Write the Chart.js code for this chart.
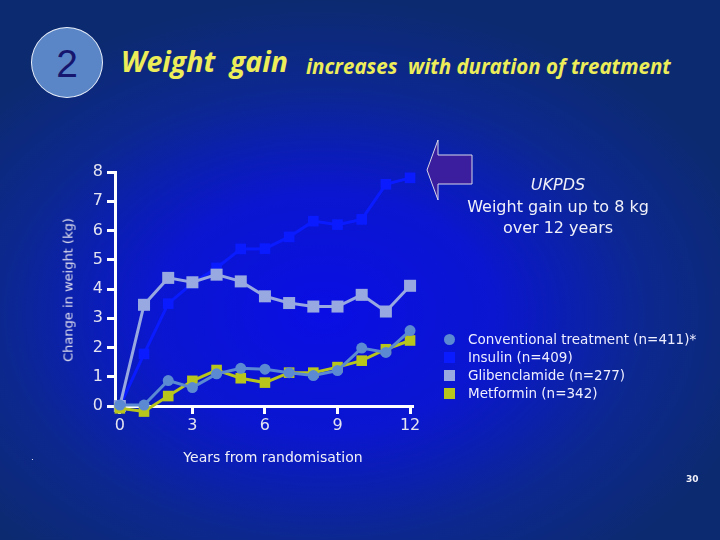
<!DOCTYPE html>
<html>
<head>
<meta charset="utf-8">
<script src="https://cdn.jsdelivr.net/npm/chart.js@4.4.1/dist/chart.umd.min.js"></script>
<style>
  html, body { margin: 0; padding: 0; }
  body {
    width: 720px; height: 540px; position: relative; overflow: hidden;
    font-family: "DejaVu Sans", Verdana, sans-serif;
    background: radial-gradient(ellipse 62% 58% at 45% 58%, #0a0ee4 0%, #0a16d0 38%, #0c2890 72%, #0c2a70 100%);
  }
  #chart { position: absolute; left: 0; top: 0; }
  .txt { position: absolute; white-space: nowrap; color: #f0f0f8; }
  #badge {
    position: absolute; left: 31px; top: 27px; width: 72px; height: 71px; border-radius: 50%;
    background: #5a86c8; border: 1px solid #e8eef8; box-sizing: border-box;
    color: #16166e; font: 39px "Liberation Sans", Arial, sans-serif; text-align: center; line-height: 72px;
  }
  .title { position: absolute; color: #eded5a; font-family: "Open Sans", sans-serif; font-style: italic; font-weight: bold; white-space: nowrap; }
  #legend { position: absolute; left: 444px; top: 330px; }
  .li { height: 18px; font-size: 13.5px; color: #eef; display: flex; align-items: center; }
  .mk { width: 11px; height: 11px; margin-right: 13px; }
</style>
</head>
<body>
<div id="badge">2</div>
<div class="title" style="left:121px; top:42px; font-size:28.5px;">Weight&nbsp; gain</div>
<div class="title" style="left:306px; top:52px; font-size:20.5px;">increases&nbsp; with duration of treatment</div>

<canvas id="chart" width="720" height="540"></canvas>

<div class="txt" style="left:68px; top:290px; font-size:13px; color:#e0e0ee; transform: translate(-50%,-50%) rotate(-90deg);">Change in weight (kg)</div>
<div class="txt" style="left:273px; top:457px; font-size:14px; transform: translate(-50%,-50%);">Years from randomisation</div>

<svg style="position:absolute; left:0; top:0;" width="720" height="540">
  <polygon points="427,170 438,140 438,155 472,155 472,184 438,184 438,200" fill="#3a1e9e" stroke="#d8d8e8" stroke-width="1"/>
</svg>
<div class="txt" style="left:558px; top:184px; font-size:16px; font-style:italic; transform: translate(-50%,-50%);">UKPDS</div>
<div class="txt" style="left:558px; top:206px; font-size:16px; transform: translate(-50%,-50%);">Weight gain up to 8 kg</div>
<div class="txt" style="left:558px; top:227px; font-size:16px; transform: translate(-50%,-50%);">over 12 years</div>

<div id="legend"></div>

<div class="txt" style="left:686px; top:474px; font-size:9px; font-weight:bold;">30</div>
<div class="txt" style="left:31px; top:452px; font-size:9px;">.</div>

<script>
const years = [0, 1, 2, 3, 4, 5, 6, 7, 8, 9, 10, 11, 12];
const xTicks = [0, 3, 6, 9, 12];
const yTicks = [0, 1, 2, 3, 4, 5, 6, 7, 8];

const seriesNames = ['Conventional treatment (n=411)*', 'Insulin (n=409)', 'Glibenclamide (n=277)', 'Metformin (n=342)'];
const conventional = [0.03, 0.03, 0.87, 0.63, 1.1, 1.29, 1.26, 1.14, 1.04, 1.21, 1.98, 1.83, 2.58];
const insulin      = [0, 1.78, 3.5, 4.2, 4.72, 5.37, 5.38, 5.78, 6.32, 6.2, 6.38, 7.58, 7.8];
const glib         = [0, 3.46, 4.38, 4.23, 4.49, 4.26, 3.75, 3.52, 3.4, 3.4, 3.8, 3.23, 4.11];
const metformin    = [-0.08, -0.19, 0.34, 0.86, 1.23, 0.95, 0.8, 1.14, 1.14, 1.33, 1.55, 1.94, 2.24];

const colors = ['#5b8ad2', '#0a1cff', '#98a8e0', '#b8c61c'];
const shapes = ['circle', 'rect', 'rect', 'rect'];
const drawOrder = [0, 3, 2, 1]; // conventional on top, insulin at the back
const values = [conventional, insulin, glib, metformin];

const toPoints = arr => arr.map((v, i) => ({ x: years[i], y: v }));

const datasets = values.map((arr, i) => ({
    label: seriesNames[i],
    data: toPoints(arr),
    borderColor: colors[i],
    backgroundColor: colors[i],
    borderWidth: 3,
    pointStyle: shapes[i],
    pointRadius: shapes[i] === 'circle' ? 5.5 : (i === 2 ? 8.5 : 7.5),
    pointBorderWidth: 0,
    tension: 0,
    order: drawOrder[i],
    clip: false
}));

// html legend
const legend = document.getElementById('legend');
legend.innerHTML = seriesNames.map((n, i) => `
    <div class="li"><span class="mk" style="background:${colors[i]};${shapes[i] === 'circle' ? 'border-radius:50%;' : ''}"></span>${n}</div>
`).join('');

const tickFont = { family: 'DejaVu Sans', size: 16 };

new Chart(document.getElementById('chart'), {
    type: 'line',
    data: { datasets },
    options: {
        responsive: false,
        animation: false,
        layout: { padding: { top: 172, right: 308, left: 0, bottom: 0 } },
        plugins: { legend: { display: false }, tooltip: { enabled: false } },
        scales: {
            x: {
                type: 'linear', min: -0.2, max: 12.08,
                afterBuildTicks: s => { s.ticks = xTicks.map(v => ({ value: v })); },
                afterFit: s => { s.height = 134; },
                ticks: { color: '#e4e4f0', font: tickFont, padding: 2, autoSkip: false, maxRotation: 0,
                         callback: v => String(v) },
                grid: { drawOnChartArea: false, color: '#ffffff', lineWidth: 3, tickLength: 8 },
                border: { color: '#ffffff', width: 3 }
            },
            y: {
                min: 0, max: 8,
                afterBuildTicks: s => { s.ticks = yTicks.map(v => ({ value: v })); },
                afterFit: s => { s.width = 115; },
                ticks: { color: '#e4e4f0', font: tickFont, padding: 4, autoSkip: false,
                         callback: v => String(v) },
                grid: { drawOnChartArea: false, color: '#ffffff', lineWidth: 3, tickLength: 8 },
                border: { color: '#ffffff', width: 3 }
            }
        }
    }
});
</script>
</body>
</html>
